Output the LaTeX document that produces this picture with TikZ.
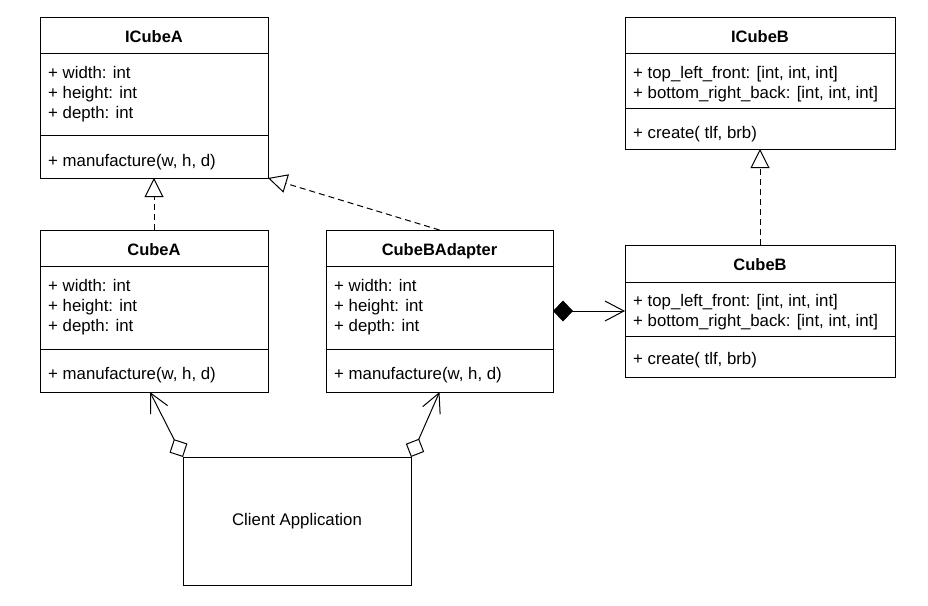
\documentclass[tikz,border=0pt]{standalone}
\usepackage{fontspec}
\setmainfont{Liberation Sans}
\usetikzlibrary{arrows.meta,calc}
\tikzset{
  classbox/.style={draw, line width=1pt, rectangle, anchor=north west, inner sep=0pt, outer sep=0pt},
  ctitle/.style={font=\bfseries\fontsize{16.5}{20}\selectfont, anchor=base, inner sep=0pt},
  member/.style={font=\fontsize{16.8}{20}\selectfont, anchor=base west, inner sep=0pt},
  plain/.style={font=\fontsize{16.8}{20}\selectfont, inner sep=0pt},
  sepline/.style={line width=1pt},
  realize/.style={line width=1pt, dash pattern=on 6pt off 4pt,
    -{Triangle[open, length=19pt, width=19pt, line width=1pt]}},
  compose/.style={line width=1pt,
    {Diamond[length=20pt, width=21pt]}-{Straight Barb[length=19pt, width=20pt, line width=1pt]}},
  aggregate/.style={line width=1pt,
    {Diamond[open, length=20pt, width=20pt, line width=1pt]}-{Straight Barb[length=19pt, width=19pt, line width=1pt]}}
}
\begin{document}
\begin{tikzpicture}[x=1pt,y=-1pt]
\useasboundingbox[fill=white] (0,0) rectangle (928,605);

% ICubeA
\node[classbox, minimum width=228pt, minimum height=161pt] (icubea) at (40,17) {};
\draw[sepline] ($(icubea.north west)+(0,36)$) -- ($(icubea.north east)+(0,36)$);
\draw[sepline] ($(icubea.north west)+(0,118)$) -- ($(icubea.north east)+(0,118)$);
\node[ctitle] (icubea-t) at ($(icubea.north)+(0,25)$) {ICubeA};
\node[member] (icubea-a1) at ($(icubea.north west)+(8,61)$) {+ width: int};
\node[member] (icubea-a2) at ($(icubea.north west)+(8,81)$) {+ height: int};
\node[member] (icubea-a3) at ($(icubea.north west)+(8,101)$) {+ depth: int};
\node[member] (icubea-m1) at ($(icubea.north west)+(8,149)$) {+ manufacture(w, h, d)};

% CubeA
\node[classbox, minimum width=228pt, minimum height=162pt] (cubea) at (40,230) {};
\draw[sepline] ($(cubea.north west)+(0,36)$) -- ($(cubea.north east)+(0,36)$);
\draw[sepline] ($(cubea.north west)+(0,119)$) -- ($(cubea.north east)+(0,119)$);
\node[ctitle] (cubea-t) at ($(cubea.north)+(0,25)$) {CubeA};
\node[member] (cubea-a1) at ($(cubea.north west)+(8,61)$) {+ width: int};
\node[member] (cubea-a2) at ($(cubea.north west)+(8,81)$) {+ height: int};
\node[member] (cubea-a3) at ($(cubea.north west)+(8,101)$) {+ depth: int};
\node[member] (cubea-m1) at ($(cubea.north west)+(8,149)$) {+ manufacture(w, h, d)};

% CubeBAdapter
\node[classbox, minimum width=227pt, minimum height=162pt] (cubebad) at (326,230) {};
\draw[sepline] ($(cubebad.north west)+(0,36)$) -- ($(cubebad.north east)+(0,36)$);
\draw[sepline] ($(cubebad.north west)+(0,119)$) -- ($(cubebad.north east)+(0,119)$);
\node[ctitle] (cubebad-t) at ($(cubebad.north)+(0,25)$) {CubeBAdapter};
\node[member] (cubebad-a1) at ($(cubebad.north west)+(8,61)$) {+ width: int};
\node[member] (cubebad-a2) at ($(cubebad.north west)+(8,81)$) {+ height: int};
\node[member] (cubebad-a3) at ($(cubebad.north west)+(8,101)$) {+ depth: int};
\node[member] (cubebad-m1) at ($(cubebad.north west)+(8,149)$) {+ manufacture(w, h, d)};

% ICubeB
\node[classbox, minimum width=270pt, minimum height=132pt] (icubeb) at (625,17) {};
\draw[sepline] ($(icubeb.north west)+(0,36)$) -- ($(icubeb.north east)+(0,36)$);
\draw[sepline] ($(icubeb.north west)+(0,91)$) -- ($(icubeb.north east)+(0,91)$);
\node[ctitle] (icubeb-t) at ($(icubeb.north)+(0,25)$) {ICubeB};
\node[member] (icubeb-a1) at ($(icubeb.north west)+(8,61)$) {+ top\_left\_front: [int, int, int]};
\node[member] (icubeb-a2) at ($(icubeb.north west)+(8,81)$) {+ bottom\_right\_back: [int, int, int]};
\node[member] (icubeb-m1) at ($(icubeb.north west)+(8,121)$) {+ create( tlf, brb)};

% CubeB
\node[classbox, minimum width=270pt, minimum height=132pt] (cubeb) at (625,245) {};
\draw[sepline] ($(cubeb.north west)+(0,37)$) -- ($(cubeb.north east)+(0,37)$);
\draw[sepline] ($(cubeb.north west)+(0,91)$) -- ($(cubeb.north east)+(0,91)$);
\node[ctitle] (cubeb-t) at ($(cubeb.north)+(0,25)$) {CubeB};
\node[member] (cubeb-a1) at ($(cubeb.north west)+(8,61.5)$) {+ top\_left\_front: [int, int, int]};
\node[member] (cubeb-a2) at ($(cubeb.north west)+(8,81)$) {+ bottom\_right\_back: [int, int, int]};
\node[member] (cubeb-m1) at ($(cubeb.north west)+(8,119)$) {+ create( tlf, brb)};

% Client Application
\node[classbox, minimum width=228pt, minimum height=128pt] (client) at (183,457) {};
\node[plain] (client-t) at (client.center) {Client Application};

% connectors
\draw[realize] (cubea.north) -- (icubea.south);
\draw[realize] (cubebad.north) -- (icubea.south east);
\draw[realize] (cubeb.north) -- (icubeb.south);
\draw[compose] (cubebad.east) -- (cubeb.west);
\draw[aggregate] (client.north west) -- ($(cubea.south)+(-4,0)$);
\draw[aggregate] (client.north east) -- (cubebad.south);
\end{tikzpicture}
\end{document}
